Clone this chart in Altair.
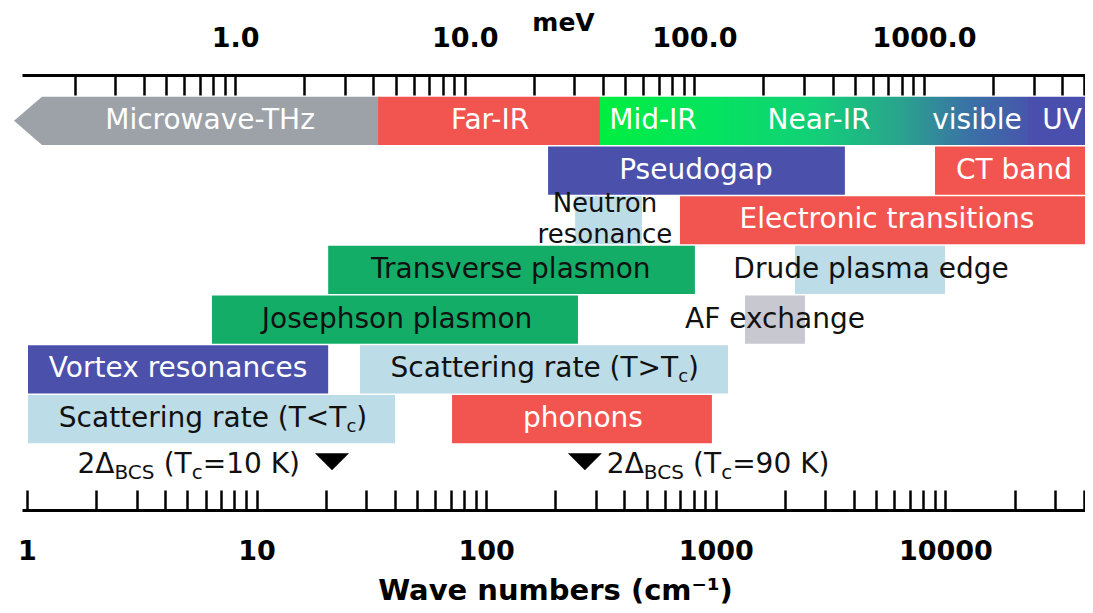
import altair as alt
import pandas as pd

CM_PER_MEV = 8.0655
FONT = "DejaVu Sans"

# ---------------- data (wave numbers in cm^-1) ----------------
band_names = ["Far-IR", "UV", "Pseudogap", "CT band", "Neutron resonance",
              "Electronic transitions", "Transverse plasmon", "Drude plasma edge",
              "Josephson plasmon", "AF exchange", "Vortex resonances",
              "Scattering rate (T>Tc)", "Scattering rate (T<Tc)", "phonons"]
band_start = [33.8, 22900, 186, 9010, 244, 698, 20.5, 2213, 6.39, 1340, 1.01, 28.2, 1.01, 71]
band_end = [313, 60000, 3650, 60000, 477, 60000, 811, 9960, 251, 2445, 20.5, 1130, 40.1, 962]
band_row = [0, 0, 1, 1, 2, 2, 3, 3, 4, 4, 5, 5, 6, 6]
band_kind = ["red", "uv", "blue", "red", "pale", "red", "green", "pale",
             "green", "grey", "blue", "pale", "pale", "red"]

microwave_wn = [0.878, 1.162, 33.8]      # arrow tip, arrow shoulder, end
spectrum_wn = [313, 22900]               # Mid-IR .. visible (graded band)

label_text = ["Microwave-THz", "Far-IR", "Mid-IR", "Near-IR", "visible", "UV",
              "Pseudogap", "CT band", "Electronic transitions",
              "Transverse plasmon", "Drude plasma edge", "Josephson plasmon",
              "AF exchange", "Vortex resonances", "phonons"]
label_wn = [6.27, 103.9, 533, 2815, 13730, 32200, 820, 19900, 5567,
            128, 4743, 40.9, 1811, 4.55, 264]
label_row = [0, 0, 0, 0, 0, 0, 1, 1, 2, 3, 3, 4, 4, 5, 6]
label_ink = ["light", "light", "light", "light", "light", "light", "light", "light",
             "light", "dark", "dark", "dark", "dark", "light", "light"]

neutron_text = "Neutron\nresonance"
neutron_wn = 329
neutron_row = 2

scatter_wn = [180, 6.46]
scatter_row = [5, 6]
scatter_sign = [">", "<"]

gap_wn = [21.3, 269]          # 2 Delta_BCS markers
gap_tc = ["10", "90"]

cm_label_values = [1, 10, 100, 1000, 10000]
mev_label_values = [1, 10, 100, 1000]
cm_tick_values = [d * 10 ** e for e in range(0, 5) for d in range(1, 10) if d * 10 ** e <= 40000]
mev_tick_values = [d * 10 ** e for e in range(-1, 4) for d in range(1, 10)
                   if 0.2 <= d * 10 ** e <= 5000]

# ---------------- layout ----------------
W_PX, H_PX = 1063, 435
x_dom = [0.9511, 40555]
y_dom = [-0.4225, 8.33]
xs = alt.Scale(type="log", domain=x_dom)
ys = alt.Scale(domain=y_dom, reverse=True, zero=False, nice=False)
mev_scale = alt.Scale(type="log", domain=[x_dom[0] / CM_PER_MEV, x_dom[1] / CM_PER_MEV])

FS = 28
SUB_FS = 18
SUB_DY = 8

kind_domain = ["red", "uv", "blue", "green", "pale", "grey"]
kind_range = ["#f2554f", "#4a4fae", "#4b51ab", "#13ad68", "#bcdce7", "#c7c8d0"]
INK = {"light": "#ffffff", "dark": "#111111"}

# DejaVu Sans advance widths (em units) for composite labels
WID = {" ": .318, "(": .390, ")": .390, "-": .361, ".": .318, "<": .838, "=": .838, ">": .838,
       "B": .686, "C": .698, "K": .656, "S": .635, "T": .611, "Δ": .684, "a": .613,
       "c": .550, "e": .615, "g": .635, "i": .278, "n": .634, "r": .411, "t": .392}
for dch in "0123456789":
    WID[dch] = .636


def tw(s, size):
    return sum(WID.get(ch, 0.6) for ch in s) * size


def xenc(field="wn"):
    return alt.X(f"{field}:Q", scale=xs, axis=None, title=None)


def yenc(field="y"):
    return alt.Y(f"{field}:Q", scale=ys, axis=None, title=None)


# ---------------- bars ----------------
bars_df = pd.DataFrame({"name": band_names, "start": band_start, "end": band_end,
                        "row": band_row, "kind": band_kind})
bars_df["top"] = bars_df["row"] + 0.015
bars_df["bottom"] = bars_df["row"] + 0.985

cm_tick_axis = alt.Axis(orient="top", offset=-H_PX, values=cm_tick_values, labels=False,
                        domain=True, domainColor="black", domainWidth=3,
                        ticks=True, tickColor="black", tickWidth=2.5, tickSize=20,
                        grid=False)

bars = alt.Chart(bars_df).mark_rect(clip=True).encode(
    x=alt.X("start:Q", scale=xs, axis=cm_tick_axis, title=None),
    x2="end:Q",
    y=yenc("top"),
    y2="bottom:Q",
    color=alt.Color("kind:N", scale=alt.Scale(domain=kind_domain, range=kind_range), legend=None),
)

mw_df = pd.DataFrame({"wn": microwave_wn,
                      "top": [0.5, 0.015, 0.015],
                      "bottom": [0.5, 0.985, 0.985]})
microwave = alt.Chart(mw_df).mark_area(color="#9da2a8", opacity=1).encode(
    x=xenc(), y=yenc("top"), y2="bottom:Q")

spec_df = pd.DataFrame({"start": [spectrum_wn[0]], "end": [spectrum_wn[1]], "top": [0.015], "bottom": [0.985]})
spectrum = alt.Chart(spec_df).mark_rect(fill={
    "gradient": "linear", "x1": 0, "x2": 1, "y1": 0, "y2": 0,
    "stops": [{"offset": 0, "color": "#00ee40"}, {"offset": 0.25, "color": "#04e45e"},
              {"offset": 0.5, "color": "#12d078"}, {"offset": 0.7, "color": "#29a48d"},
              {"offset": 0.86, "color": "#3a72a6"}, {"offset": 1, "color": "#4756ab"}]}).encode(
    x=xenc("start"), x2="end:Q", y=yenc("top"), y2="bottom:Q")

# ---------------- labels ----------------
lab_df = pd.DataFrame({"t": label_text, "wn": label_wn, "row": label_row, "ink": label_ink})
lab_df["y"] = lab_df["row"] + 0.5

cm_label_axis = alt.Axis(orient="bottom", values=cm_label_values, format="d",
                         domain=False, ticks=False, tickSize=0, grid=False,
                         labelFont=FONT, labelFontSize=27, labelFontWeight="bold",
                         labelColor="black", labelPadding=28, labelFlush=False,
                         labelOverlap=False, labelBound=False,
                         title="Wave numbers (cm⁻¹)", titleFont=FONT, titleFontSize=29,
                         titleFontWeight="bold", titleColor="black",
                         titleX=533, titleY=80, titleAlign="center", titleBaseline="middle")

text_light = alt.Chart(lab_df[lab_df.ink == "light"]).mark_text(
    font=FONT, fontSize=FS, color=INK["light"], baseline="middle", align="center").encode(
    x=alt.X("wn:Q", scale=xs, axis=cm_label_axis), y=yenc(), text="t:N")

text_dark = alt.Chart(lab_df[lab_df.ink == "dark"]).mark_text(
    font=FONT, fontSize=FS, color=INK["dark"], baseline="middle", align="center").encode(
    x=xenc(), y=yenc(), text="t:N")

neutron_df = pd.DataFrame({"t": [neutron_text], "wn": [neutron_wn], "y": [neutron_row + 0.5]})
text_neutron = alt.Chart(neutron_df).mark_text(
    font=FONT, fontSize=26, color=INK["dark"], baseline="middle", align="center",
    lineBreak="\n", lineHeight=31, dy=-16).encode(
    x=xenc(), y=yenc(), text="t:N")


def composite(wn, yv, segs, anchor, offset=0.0, sub_fs=SUB_FS):
    sizes = [sub_fs if k == "sub" else FS for _, k in segs]
    widths = [tw(t, s) for (t, _), s in zip(segs, sizes)]
    total = sum(widths)
    if anchor == "center":
        cum = -total / 2
    elif anchor == "right":
        cum = offset - total
    else:
        cum = offset
    out = []
    for (t, k), s, w in zip(segs, sizes, widths):
        stripped = t.lstrip(" ")
        lead = tw(t[:len(t) - len(stripped)], s)
        df = pd.DataFrame({"wn": [wn], "y": [yv], "t": [stripped]})
        out.append(alt.Chart(df).mark_text(
            font=FONT, fontSize=s, color=INK["dark"], align="left", baseline="middle",
            dx=cum + lead, dy=SUB_DY if k == "sub" else 0).encode(
            x=xenc(), y=yenc(), text="t:N"))
        cum += w
    return out


comp_layers = []
for wn, r, sg in zip(scatter_wn, scatter_row, scatter_sign):
    comp_layers += composite(wn, r + 0.5, [(f"Scattering rate (T{sg}T", "main"), ("c", "sub"), (")", "main")], "center")

GAP_Y = 7.42
gap_segs = [[("2Δ", "main"), ("BCS", "sub"), (" (T", "main"), ("c", "sub"), (f"={tc} K)", "main")] for tc in gap_tc]
comp_layers += composite(gap_wn[0], GAP_Y, gap_segs[0], "right", -32, sub_fs=20)
comp_layers += composite(gap_wn[1], GAP_Y, gap_segs[1], "left", 22, sub_fs=20)

tri_df = pd.DataFrame({"wn": gap_wn, "y": [7.36, 7.36]})
triangles = alt.Chart(tri_df).mark_point(
    shape="M-1,-0.5L1,-0.5L0,0.5Z", size=1156, filled=True, color="black", opacity=1,
    strokeWidth=0).encode(x=xenc(), y=yenc())

# ---------------- meV axis carriers ----------------
mev_df = pd.DataFrame({"mev": mev_label_values, "y": [0.0] * len(mev_label_values)})
mev_tick_axis = alt.Axis(orient="bottom", offset=-H_PX, values=mev_tick_values, labels=False,
                         domain=True, domainColor="black", domainWidth=3,
                         ticks=True, tickColor="black", tickWidth=2.5, tickSize=20,
                         grid=False)
mev_label_axis = alt.Axis(orient="top", values=mev_label_values, format=".1f",
                          domain=False, ticks=False, tickSize=0, grid=False,
                          labelFont=FONT, labelFontSize=27, labelFontWeight="bold",
                          labelColor="black", labelPadding=23, labelFlush=False,
                          labelOverlap=False, labelBound=False,
                          title="meV", titleFont=FONT, titleFontSize=25, titleFontWeight="bold",
                          titleColor="black", titleX=541, titleY=-53,
                          titleAlign="center", titleBaseline="middle")
mev_ticks_layer = alt.Chart(mev_df).mark_point(opacity=0).encode(
    x=alt.X("mev:Q", scale=mev_scale, axis=mev_tick_axis, title=None), y=yenc())
mev_labels_layer = alt.Chart(mev_df).mark_point(opacity=0).encode(
    x=alt.X("mev:Q", scale=mev_scale, axis=mev_label_axis), y=yenc())

chart = alt.layer(
    bars, microwave, spectrum, triangles, text_light, text_dark, text_neutron, *comp_layers,
    mev_ticks_layer, mev_labels_layer
).resolve_scale(x="independent").properties(
    width=W_PX, height=H_PX,
    padding={"left": 14, "top": 67, "right": 0, "bottom": 95},
    autosize=alt.AutoSizeParams(type="none"),
    background="white",
).configure_view(strokeWidth=0)

chart.save("out.html", embed_options={"renderer": "svg", "actions": False})
